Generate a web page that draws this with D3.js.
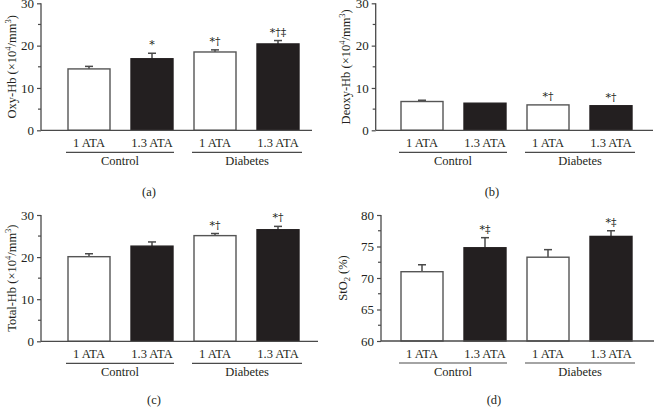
<!DOCTYPE html>
<html><head><meta charset="utf-8">
<script src="https://cdn.jsdelivr.net/npm/d3@7"></script>
<style>body{margin:0;background:#fff}svg{display:block}text{font-family:"Liberation Serif","Times New Roman",serif;fill:#231f20}.sig{font-family:"DejaVu Serif","Liberation Serif",serif}</style>
</head><body>
<svg id="c" width="654" height="416"></svg>
<script>
// ---- data ----
const groups = ["Control", "Diabetes"];
const conditions = ["1 ATA", "1.3 ATA"];
const barKeys = ["C1", "C13", "D1", "D13"];
const barLabels = ["1 ATA", "1.3 ATA", "1 ATA", "1.3 ATA"];
const barFilled = [false, true, false, true];

const oxyHb = [14.5, 16.9, 18.5, 20.4];
const oxyHbErr = [0.6, 1.3, 0.5, 0.8];
const oxyHbSig = ["", "*", "*†", "*†‡"];

const deoxyHb = [6.8, 6.4, 6.0, 5.8];
const deoxyHbErr = [0.3, 0, 0, 0];
const deoxyHbSig = ["", "", "*†", "*†"];

const totalHb = [20.1, 22.6, 25.1, 26.5];
const totalHbErr = [0.7, 1.0, 0.5, 0.8];
const totalHbSig = ["", "", "*†", "*†"];

const stO2 = [71.0, 74.8, 73.3, 76.6];
const stO2Err = [1.1, 1.6, 1.2, 0.9];
const stO2Sig = ["", "*‡", "", "*‡"];

const hbTicks = [0, 10, 20, 30];
const hbMinor = [5, 15, 25];
const stTicks = [60, 65, 70, 75, 80];
const stMinor = [62.5, 67.5, 72.5, 77.5];

const svg = d3.select("#c");
const INK = "#231f20", LINE = "#4a4a4a";
const FS = 12.5;

function panel(o) {
  const g = svg.append("g");
  const y = d3.scaleLinear().domain(o.domain).range([o.y0, o.y1]);
  const x = d3.scaleBand().domain(barKeys).range([o.bx0, o.bx0 + 252]).paddingInner(1/3).paddingOuter(1/6);
  // bars
  barKeys.forEach((k, i) => {
    const v = o.values[i], e = o.err[i];
    const bx = x(k), bw = x.bandwidth(), cx = bx + bw / 2;
    if (e > 0) {
      g.append("line").attr("x1", cx).attr("x2", cx).attr("y1", y(v)).attr("y2", y(v + e)).attr("stroke", LINE).attr("stroke-width", 1.5);
      g.append("line").attr("x1", cx - 4).attr("x2", cx + 4).attr("y1", y(v + e)).attr("y2", y(v + e)).attr("stroke", LINE).attr("stroke-width", 1.5);
    }
    g.append("rect").attr("x", bx).attr("y", y(v)).attr("width", bw).attr("height", y(o.domain[0]) - y(v))
      .attr("fill", barFilled[i] ? INK : "#fff").attr("stroke", barFilled[i] ? INK : "#555").attr("stroke-width", 1.4);
    if (o.sig[i]) {
      g.append("text").attr("class", "sig").attr("x", cx).attr("y", y(v + e) - 5).attr("text-anchor", "middle")
        .attr("font-size", 11).attr("fill", INK).text(o.sig[i]);
    }
    g.append("text").attr("x", cx).attr("y", o.y0 + 17).attr("text-anchor", "middle").attr("font-size", FS).text(barLabels[i]);
  });
  // y axis
  const ax = g.append("g").attr("transform", `translate(${o.ax},0)`)
    .call(d3.axisLeft(y).tickValues(o.ticks).tickSize(4).tickPadding(3).tickFormat(d3.format("d")));
  ax.select(".domain").attr("stroke", LINE).attr("stroke-width", 1.3).attr("d", `M0,${o.y0}V${o.y1}`);
  ax.selectAll(".tick line").attr("stroke", LINE).attr("stroke-width", 1.2);
  ax.selectAll(".tick text").attr("font-size", 13).attr("font-family", "Liberation Serif").attr("fill", INK);
  o.minor.forEach(m => g.append("line").attr("x1", o.ax - 3).attr("x2", o.ax).attr("y1", y(m)).attr("y2", y(m)).attr("stroke", LINE).attr("stroke-width", 1.2));
  // x axis baseline
  g.append("line").attr("x1", o.ax).attr("x2", o.axEnd).attr("y1", o.y0).attr("y2", o.y0).attr("stroke", LINE).attr("stroke-width", 1.3);
  // group lines + labels
  groups.forEach((gr, gi) => {
    const a = x(barKeys[gi * 2]) - 2, b = x(barKeys[gi * 2 + 1]) + x.bandwidth() + (gi === 1 ? 3 : 1);
    g.append("line").attr("x1", a).attr("x2", b).attr("y1", o.y0 + 22).attr("y2", o.y0 + 22).attr("stroke", LINE).attr("stroke-width", 1.2);
    g.append("text").attr("x", (a + b) / 2).attr("y", o.y0 + 35).attr("text-anchor", "middle").attr("font-size", FS).text(gr);
  });
  // y label
  const t = g.append("text").attr("transform", `translate(${o.lx},${(o.y0 + o.y1) / 2}) rotate(-90)`).attr("text-anchor", "middle").attr("font-size", FS);
  o.label(t);
  // panel letter
  g.append("text").attr("x", o.px).attr("y", o.py).attr("text-anchor", "middle").attr("font-size", FS).text(o.letter);
}

function hbLabel(name) {
  return t => {
    t.append("tspan").text(name + " (×10");
    t.append("tspan").attr("font-size", 8.5).attr("dy", -5).text("4");
    t.append("tspan").attr("dy", 5).text("/mm");
    t.append("tspan").attr("font-size", 8.5).attr("dy", -5).text("3");
    t.append("tspan").attr("dy", 5).text(")");
  };
}

panel({domain: [0, 30], y0: 130.3, y1: 3.3, ax: 41, axEnd: 312, bx0: 57.5, values: oxyHb, err: oxyHbErr, sig: oxyHbSig,
  ticks: hbTicks, minor: hbMinor, lx: 16, label: hbLabel("Oxy-Hb"), letter: "(a)", px: 149, py: 196});
panel({domain: [0, 30], y0: 130.3, y1: 3.3, ax: 375.7, axEnd: 653, bx0: 390.5, values: deoxyHb, err: deoxyHbErr, sig: deoxyHbSig,
  ticks: hbTicks, minor: hbMinor, lx: 350, label: hbLabel("Deoxy-Hb"), letter: "(b)", px: 492, py: 196});
panel({domain: [0, 30], y0: 341.3, y1: 215, ax: 41, axEnd: 318, bx0: 57.5, values: totalHb, err: totalHbErr, sig: totalHbSig,
  ticks: hbTicks, minor: hbMinor, lx: 16, label: hbLabel("Total-Hb"), letter: "(c)", px: 154, py: 404});
panel({domain: [60, 80], y0: 341, y1: 215, ax: 381, axEnd: 654, bx0: 390.5, values: stO2, err: stO2Err, sig: stO2Sig,
  ticks: stTicks, minor: stMinor, lx: 347, label: t => {
    t.append("tspan").text("StO");
    t.append("tspan").attr("font-size", 8.5).attr("dy", 3).text("2");
    t.append("tspan").attr("dy", -3).text(" (%)");
  }, letter: "(d)", px: 494, py: 404});
</script>
</body></html>
